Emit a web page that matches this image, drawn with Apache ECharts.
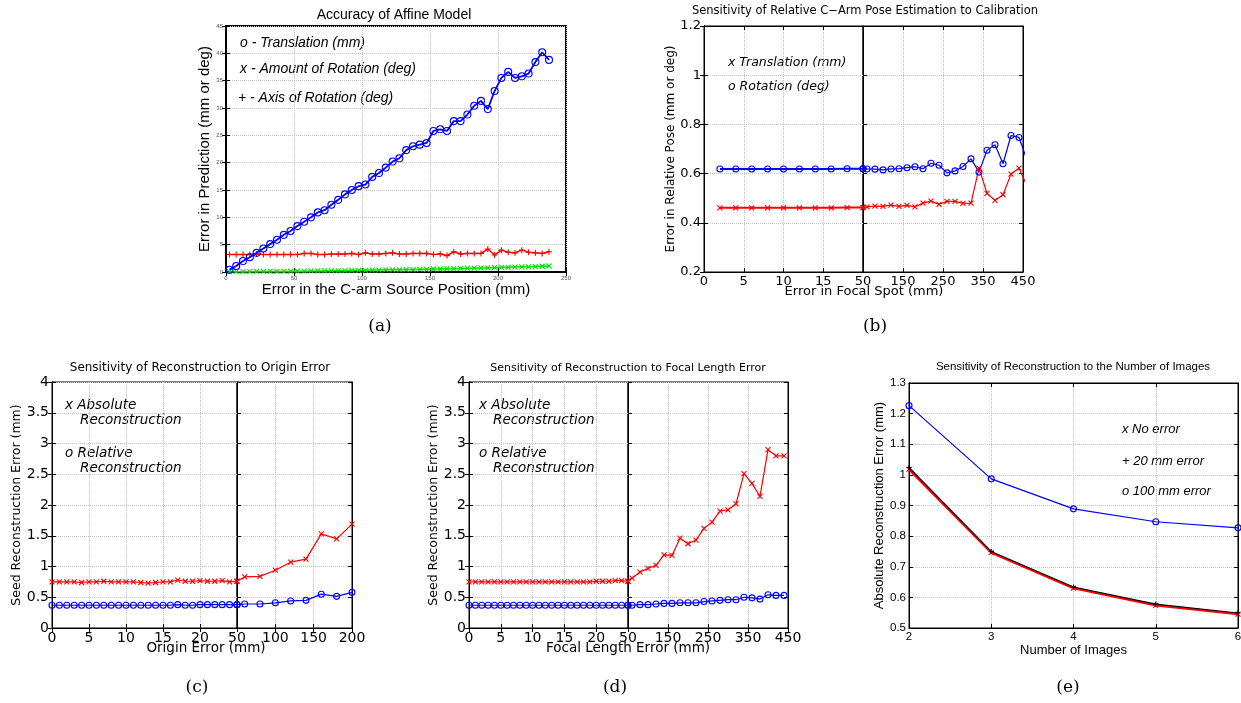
<!DOCTYPE html>
<html>
<head>
<meta charset="utf-8">
<script src="https://cdn.jsdelivr.net/npm/echarts@6/dist/echarts.min.js"></script>
<style>
  html, body { margin: 0; padding: 0; background: #fff; }
  #chart { width: 1241px; height: 703px; }
</style>
</head>
<body>
<div id="chart"></div>
<script>
// ---- data ----
// (a) Accuracy of Affine Model
const aX = [2.5, 7.5, 12.5, 17.5, 22.5, 27.5, 32.5, 37.5, 42.5, 47.5,
  52.5, 57.5, 62.5, 67.5, 72.5, 77.5, 82.5, 87.5, 92.5, 97.5,
  102.5, 107.5, 112.5, 117.5, 122.5, 127.5, 132.5, 137.5, 142.5, 147.5,
  152.5, 157.5, 162.5, 167.5, 172.5, 177.5, 182.5, 187.5, 192.5, 197.5,
  202.5, 207.5, 212.5, 217.5, 222.5, 227.5, 232.5, 237.5]
const aTranslation = [0.4, 1.1, 2.0, 2.7, 3.5, 4.3, 5.1, 5.9, 6.8, 7.5,
  8.4, 9.2, 10.0, 10.9, 11.3, 12.3, 13.2, 14.2, 15.0, 15.7,
  16.0, 17.4, 18.1, 19.1, 20.2, 20.8, 22.3, 23.0, 23.3, 23.6,
  25.8, 26.1, 25.8, 27.6, 27.6, 28.8, 30.4, 31.3, 29.8, 33.1,
  35.5, 36.6, 35.5, 35.8, 36.3, 38.4, 40.2, 38.8]
const aAmountRot = [3.2, 3.2, 3.2, 3.2, 3.3, 3.2, 3.2, 3.2, 3.2, 3.2,
  3.2, 3.4, 3.4, 3.2, 3.2, 3.3, 3.3, 3.3, 3.4, 3.2,
  3.5, 3.3, 3.3, 3.4, 3.5, 3.3, 3.3, 3.4, 3.4, 3.4,
  3.2, 3.3, 3.0, 3.7, 3.3, 3.4, 3.4, 3.4, 4.2, 3.1,
  4.0, 3.6, 3.5, 4.0, 3.6, 3.5, 3.4, 3.7]
const aAxisRot = [0.05, 0.05, 0.05, 0.05, 0.1, 0.1, 0.1, 0.1, 0.1, 0.15,
  0.15, 0.15, 0.2, 0.2, 0.2, 0.25, 0.25, 0.25, 0.3, 0.3,
  0.3, 0.35, 0.35, 0.4, 0.4, 0.4, 0.45, 0.45, 0.5, 0.5,
  0.55, 0.55, 0.6, 0.6, 0.65, 0.7, 0.7, 0.75, 0.75, 0.8,
  0.85, 0.85, 0.9, 0.95, 0.95, 1.0, 1.05, 1.1]

// (b) Relative C-arm pose vs focal spot error (split axis)
const bLeftX = [2, 4, 6, 8, 10, 12, 14, 16, 18, 20]
const bLeftRot = [0.619, 0.619, 0.619, 0.619, 0.619, 0.619, 0.619, 0.619, 0.62, 0.62]
const bLeftTrans = [0.461, 0.461, 0.461, 0.461, 0.461, 0.461, 0.461, 0.461, 0.462, 0.462]
const bRightX = [50, 60, 80, 100, 120, 140, 160, 180, 200, 220, 240,
  260, 280, 300, 320, 340, 360, 380, 400, 420, 440, 460]
const bRightRot = [0.62, 0.619, 0.618, 0.615, 0.619, 0.62, 0.624, 0.628, 0.62, 0.642, 0.634,
  0.603, 0.611, 0.629, 0.66, 0.606, 0.695, 0.717, 0.64, 0.755, 0.747, 0.655]
const bRightTrans = [0.462, 0.465, 0.468, 0.467, 0.472, 0.467, 0.471, 0.465, 0.48, 0.488, 0.475,
  0.487, 0.487, 0.479, 0.48, 0.622, 0.52, 0.491, 0.514, 0.598, 0.622, 0.55]

// (c) Reconstruction vs origin error (split axis)
const cLeftX = [0, 1, 2, 3, 4, 5, 6, 7, 8, 9, 10, 11, 12, 13, 14, 15, 16, 17, 18, 19, 20, 21, 22, 23, 24, 25]
const cLeftAbs = [0.75, 0.75, 0.75, 0.75, 0.74, 0.75, 0.75, 0.76, 0.75, 0.75, 0.75, 0.75, 0.74,
  0.73, 0.74, 0.75, 0.75, 0.78, 0.76, 0.76, 0.77, 0.76, 0.76, 0.77, 0.75, 0.76]
const cLeftRel = [0.37, 0.37, 0.37, 0.37, 0.37, 0.37, 0.37, 0.37, 0.37, 0.37, 0.37, 0.37, 0.37,
  0.37, 0.37, 0.37, 0.37, 0.38, 0.37, 0.37, 0.38, 0.38, 0.38, 0.38, 0.38, 0.38]
const cRightX = [50, 60, 80, 100, 120, 140, 160, 180, 200]
const cRightAbs = [0.76, 0.83, 0.84, 0.94, 1.07, 1.12, 1.53, 1.45, 1.69]
const cRightRel = [0.38, 0.39, 0.39, 0.41, 0.44, 0.45, 0.55, 0.515, 0.58]

// (d) Reconstruction vs focal length error (split axis)
const dLeftX = [0, 1, 2, 3, 4, 5, 6, 7, 8, 9, 10, 11, 12, 13, 14, 15, 16, 17, 18, 19, 20, 21, 22, 23, 24, 25]
const dLeftAbs = [0.75, 0.75, 0.75, 0.75, 0.75, 0.75, 0.75, 0.75, 0.75, 0.75, 0.75, 0.75, 0.75,
  0.75, 0.75, 0.75, 0.75, 0.75, 0.75, 0.75, 0.76, 0.76, 0.76, 0.77, 0.77, 0.76]
const dLeftRel = [0.37, 0.37, 0.37, 0.37, 0.37, 0.37, 0.37, 0.37, 0.37, 0.37, 0.37, 0.37, 0.37,
  0.37, 0.37, 0.37, 0.37, 0.37, 0.37, 0.37, 0.37, 0.37, 0.37, 0.37, 0.37, 0.37]
const dRightX = [50, 60, 80, 100, 120, 140, 160, 180, 200, 220, 240,
  260, 280, 300, 320, 340, 360, 380, 400, 420, 440]
const dRightAbs = [0.76, 0.81, 0.91, 0.97, 1.02, 1.19, 1.18, 1.46, 1.37, 1.43, 1.62,
  1.72, 1.90, 1.92, 2.02, 2.51, 2.35, 2.14, 2.90, 2.80, 2.80]
const dRightRel = [0.37, 0.37, 0.38, 0.38, 0.39, 0.40, 0.40, 0.41, 0.41, 0.41, 0.43,
  0.44, 0.45, 0.46, 0.46, 0.50, 0.49, 0.47, 0.54, 0.53, 0.53]

// (e) Reconstruction vs number of images
const eImages = [2, 3, 4, 5, 6]
const eNoError = [1.018, 0.746, 0.630, 0.574, 0.545]
const e20mm = [1.024, 0.750, 0.634, 0.578, 0.549]
const e100mm = [1.226, 0.987, 0.889, 0.847, 0.827]

// ---- helpers ----
const SANS = '"DejaVu Sans"'
const ARIAL = '"Liberation Sans"'
const SYM_O = 'circle'
const SYM_X = 'path://M0,0L10,10M10,0L0,10'
const SYM_PLUS = 'path://M5,0L5,10M0,5L10,5'
const BLUE = '#0000ff', RED = '#ff0000', GREEN = '#00e000'

const grids = [], xAxes = [], yAxes = [], series = [], graphics = []

function tickStyle(len) {
  return { show: true, inside: true, length: len, lineStyle: { color: '#000', width: 1 } }
}
const dotted = { show: true, lineStyle: { color: '#c4c4c4', type: 'dotted', width: 1 } }

// one grid with its bottom/left axes plus mirrored top/right tick axes
function panel(rect, xo, yo, box) {
  const gi = grids.length
  grids.push(Object.assign({ show: true, borderColor: '#000', borderWidth: box || 1,
    backgroundColor: 'transparent', outerBoundsMode: 'none' }, rect))
  const line = { show: true, lineStyle: { color: '#000', width: box || 1 } }
  const xi = xAxes.length, yi = yAxes.length
  xAxes.push(Object.assign({ type: 'value', gridIndex: gi, position: 'bottom', axisLine: line,
    axisTick: tickStyle(4), splitLine: dotted }, xo))
  yAxes.push(Object.assign({ type: 'value', gridIndex: gi, position: 'left', axisLine: line,
    axisTick: tickStyle(4), splitLine: dotted }, yo))
  xAxes.push({ type: 'value', gridIndex: gi, position: 'top', min: xo.min, max: xo.max,
    interval: xo.interval, axisLine: line, axisTick: tickStyle(4), axisLabel: { show: false },
    splitLine: { show: false } })
  yAxes.push({ type: 'value', gridIndex: gi, position: 'right', min: yo.min, max: yo.max,
    interval: yo.interval, axisLine: line, axisTick: tickStyle(4), axisLabel: { show: false },
    splitLine: { show: false } })
  return { x: xi, y: yi }
}

function plot(p, xs, ys, color, sym, size, lw, z) {
  series.push({
    type: 'line', xAxisIndex: p.x, yAxisIndex: p.y,
    data: xs.map((x, i) => [x, ys[i]]),
    symbol: sym, symbolSize: size, clip: true, silent: true, z: z || 2,
    lineStyle: { color: color, width: lw },
    itemStyle: { color: 'transparent', borderColor: color, borderWidth: 1.1 }
  })
}

function text(str, x, y, font, align, rot) {
  graphics.push({ type: 'text', x: x, y: y, rotation: rot || 0, silent: true,
    style: { text: str, font: font, fill: '#000', align: align || 'center', verticalAlign: 'middle' } })
}

// ---- (a) ----
const tinyLbl = { fontSize: 6, color: '#555', fontFamily: ARIAL, margin: 3 }
const pa = panel({ left: 226, top: 26, width: 340, height: 246 },
  { min: 0, max: 250, interval: 50, axisLabel: tinyLbl,
    name: 'Error in the C-arm Source Position (mm)', nameLocation: 'middle', nameGap: 8,
    nameTextStyle: { fontFamily: ARIAL, fontSize: 15, color: '#000' } },
  { min: 0, max: 45, interval: 5, axisLabel: tinyLbl,
    name: 'Error in Prediction (mm or deg)', nameLocation: 'middle', nameGap: 10,
    nameTextStyle: { fontFamily: ARIAL, fontSize: 15, color: '#000' } }, 2)
plot(pa, aX, aAxisRot, GREEN, SYM_X, 5, 1.5)
plot(pa, aX, aAmountRot, RED, SYM_PLUS, 6, 1.5)
plot(pa, aX, aTranslation, BLUE, SYM_O, 7, 1.8, 3)
text('Accuracy of Affine Model', 394, 15, '14px ' + ARIAL)
text('o - Translation (mm)', 240, 43, 'italic 14px ' + ARIAL, 'left')
text('x - Amount of Rotation (deg)', 240, 69, 'italic 14px ' + ARIAL, 'left')
text('+ - Axis of Rotation (deg)', 238, 98, 'italic 14px ' + ARIAL, 'left')

// ---- split panels (b), (c), (d) ----
function splitPanel(top, left, wl, wr, leftX, rightX, yo, fs) {
  const lbl = { fontFamily: SANS, fontSize: fs, color: '#000', margin: 3 }
  const pl = panel({ left: left, top: top, width: wl, height: 246 },
    Object.assign({ axisLabel: Object.assign({ showMaxLabel: false }, lbl) }, leftX),
    Object.assign({ axisLabel: lbl }, yo))
  const pr = panel({ left: left + wl, top: top, width: wr, height: 246 },
    Object.assign({ axisLabel: lbl }, rightX),
    { min: yo.min, max: yo.max, interval: yo.interval, axisLabel: { show: false } })
  return [pl, pr]
}

const [pbl, pbr] = splitPanel(26, 704, 159, 160,
  { min: 0, max: 20, interval: 5 }, { min: 50, max: 450, interval: 100 },
  { min: 0.2, max: 1.2, interval: 0.2, name: 'Error in Relative Pose (mm or deg)',
    nameLocation: 'middle', nameGap: 24, nameTextStyle: { fontFamily: SANS, fontSize: 12, color: '#000' } }, 13)
plot(pbl, bLeftX, bLeftRot, BLUE, SYM_O, 6, 2)
plot(pbl, bLeftX, bLeftTrans, RED, SYM_X, 5, 2)
plot(pbr, bRightX, bRightRot, BLUE, SYM_O, 6, 1.2)
plot(pbr, bRightX, bRightTrans, RED, SYM_X, 5, 1.2)
text('Sensitivity of Relative C\u2212Arm Pose Estimation to Calibration', 865, 11, '11.5px ' + SANS)
text('Error in Focal Spot (mm)', 864, 292, '13px ' + SANS)
text('x Translation (mm)', 728, 63, 'italic 12.5px ' + SANS, 'left')
text('o Rotation (deg)', 728, 87, 'italic 12.5px ' + SANS, 'left')

const reconY = { min: 0, max: 4, interval: 0.5, name: 'Seed Reconstruction Error (mm)',
  nameLocation: 'middle', nameTextStyle: { fontFamily: SANS, fontSize: 12.5, color: '#000' } }

const [pcl, pcr] = splitPanel(382, 52, 185, 115,
  { min: 0, max: 25, interval: 5 }, { min: 50, max: 200, interval: 50 },
  Object.assign({ nameGap: 28 }, reconY), 14)
plot(pcl, cLeftX, cLeftAbs, RED, SYM_X, 5, 1.2)
plot(pcl, cLeftX, cLeftRel, BLUE, SYM_O, 6, 1.2)
plot(pcr, cRightX, cRightAbs, RED, SYM_X, 5, 1.2)
plot(pcr, cRightX, cRightRel, BLUE, SYM_O, 6, 1.2)
text('Sensitivity of Reconstruction to Origin Error', 200, 368, '12px ' + SANS)
text('Origin Error (mm)', 206, 648, '13.5px ' + SANS)
text('x Absolute', 65, 405, 'italic 13.5px ' + SANS, 'left')
text('Reconstruction', 80, 420, 'italic 13.5px ' + SANS, 'left')
text('o Relative', 65, 453, 'italic 13.5px ' + SANS, 'left')
text('Reconstruction', 80, 468, 'italic 13.5px ' + SANS, 'left')

const [pdl, pdr] = splitPanel(382, 469, 159, 160,
  { min: 0, max: 25, interval: 5 }, { min: 50, max: 450, interval: 100 },
  Object.assign({ nameGap: 25 }, reconY), 14)
plot(pdl, dLeftX, dLeftAbs, RED, SYM_X, 5, 1.2)
plot(pdl, dLeftX, dLeftRel, BLUE, SYM_O, 6, 1.2)
plot(pdr, dRightX, dRightAbs, RED, SYM_X, 5, 1.2)
plot(pdr, dRightX, dRightRel, BLUE, SYM_O, 6, 1.2)
text('Sensitivity of Reconstruction to Focal Length Error', 628, 368, '11px ' + SANS)
text('Focal Length Error (mm)', 628, 648, '13.5px ' + SANS)
text('x Absolute', 479, 405, 'italic 13.5px ' + SANS, 'left')
text('Reconstruction', 493, 420, 'italic 13.5px ' + SANS, 'left')
text('o Relative', 479, 453, 'italic 13.5px ' + SANS, 'left')
text('Reconstruction', 493, 468, 'italic 13.5px ' + SANS, 'left')

// ---- (e) ----
const eLbl = { fontFamily: ARIAL, fontSize: 11.5, color: '#000', margin: 3 }
const pe = panel({ left: 909, top: 383, width: 329, height: 245 },
  { min: 2, max: 6, interval: 1, axisLabel: eLbl, name: 'Number of Images', nameLocation: 'middle',
    nameGap: 14, nameTextStyle: { fontFamily: ARIAL, fontSize: 13, color: '#000' } },
  { min: 0.5, max: 1.3, interval: 0.1, axisLabel: eLbl, name: 'Absolute Reconstruction Error (mm)',
    nameLocation: 'middle', nameGap: 20, nameTextStyle: { fontFamily: ARIAL, fontSize: 13, color: '#000' } })
plot(pe, eImages, e100mm, BLUE, SYM_O, 6, 1.2)
plot(pe, eImages, eNoError, RED, SYM_X, 5, 2.2)
plot(pe, eImages, e20mm, '#000', SYM_PLUS, 5, 1.2, 3)
text('Sensitivity of Reconstruction to the Number of Images', 1073, 367, '11.5px ' + ARIAL)
text('x No error', 1122, 429, 'italic 13px ' + ARIAL, 'left')
text('+ 20 mm error', 1122, 461, 'italic 13px ' + ARIAL, 'left')
text('o 100 mm error', 1122, 491, 'italic 13px ' + ARIAL, 'left')

// ---- sub-figure letters ----
const SERIF = '17px "DejaVu Serif"'
text('(a)', 380, 327, SERIF)
text('(b)', 875, 327, SERIF)
text('(c)', 197, 688, SERIF)
text('(d)', 615, 688, SERIF)
text('(e)', 1068, 688, SERIF)

const myChart = echarts.init(document.getElementById('chart'))
myChart.setOption({
  animation: false,
  grid: grids,
  xAxis: xAxes,
  yAxis: yAxes,
  series: series,
  graphic: graphics
})
</script>
</body>
</html>
